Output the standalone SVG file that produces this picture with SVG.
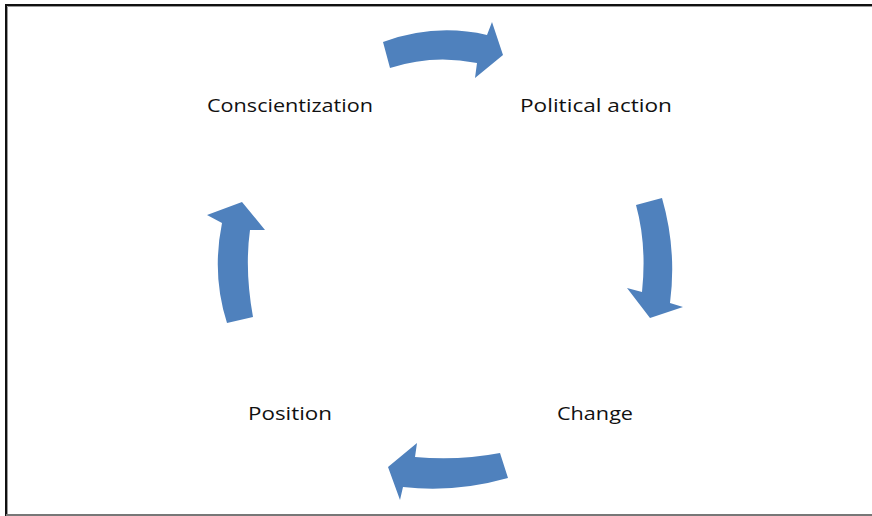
<svg xmlns="http://www.w3.org/2000/svg" width="872" height="516" viewBox="0 0 872 516">
  <style>
    .label { font-family: "Open Sans", "Noto Sans", "DejaVu Sans", sans-serif; font-size: 18.5px; fill: #111; }
    .cycle-arrow { fill: #4F81BD; }
  </style>
  <rect x="0" y="0" width="872" height="516" fill="#ffffff"/>
  <!-- frame: dark outer line with a soft grey inner edge -->
  <g id="frame" fill="none">
    <path d="M6,516 V5 H872" stroke="#111" stroke-width="2"/>
    <path d="M7.5,516 V6.5 H872" stroke="#9a9a9a" stroke-width="1"/>
    <line x1="6" y1="515" x2="872" y2="515" stroke="#777" stroke-width="2"/>
  </g>

  <g id="node-conscientization">
    <text class="label" x="207" y="111.5" textLength="166" lengthAdjust="spacingAndGlyphs">Conscientization</text>
  </g>
  <g id="node-political-action">
    <text class="label" x="520" y="111.5" textLength="152" lengthAdjust="spacingAndGlyphs">Political action</text>
  </g>
  <g id="node-change">
    <text class="label" x="557" y="419.5" textLength="76" lengthAdjust="spacingAndGlyphs">Change</text>
  </g>
  <g id="node-position">
    <text class="label" x="248" y="419.5" textLength="84" lengthAdjust="spacingAndGlyphs">Position</text>
  </g>

  <g id="connectors">
    <!-- Conscientization -> Political action -->
    <path class="cycle-arrow" d="M383,42 Q435,23 487,35 L492,22 L503,55 L475,78 L477,63 Q433,54 390,68 Z"/>
    <!-- Political action -> Change -->
    <path class="cycle-arrow" d="M636,205 L662,198 Q677,250 670,303 L683,307 L650,318 L627,288 L642,292 Q647,245 636,205 Z"/>
    <!-- Change -> Position -->
    <path class="cycle-arrow" d="M500,453 L508,478 Q455,493 403,487 L400,500 L388,467 L417,443 L415,457 Q458,461 500,453 Z"/>
    <!-- Position -> Conscientization -->
    <path class="cycle-arrow" d="M227,323 L253,317 Q244.5,270 250,230 L265,230 L242,202 L207,215 L222,223 Q211.5,275 227,323 Z"/>
  </g>
</svg>
